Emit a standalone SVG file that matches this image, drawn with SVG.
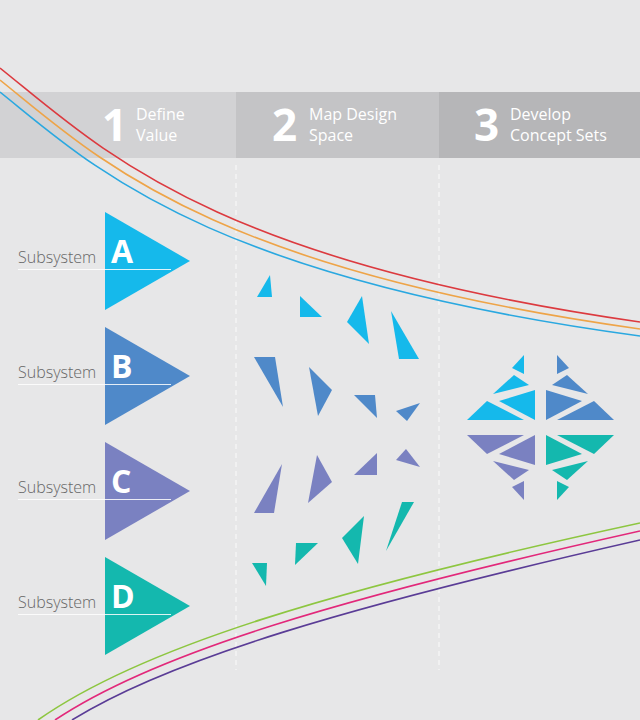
<svg xmlns="http://www.w3.org/2000/svg" width="640" height="720" viewBox="0 0 640 720">
<style>
.hnum{font-family:"Open Sans","Liberation Sans",sans-serif;font-weight:700;font-size:44px;fill:#ffffff}
.htxt{font-family:"Open Sans","Liberation Sans",sans-serif;font-weight:400;font-size:16px;fill:#ffffff}
.sub{font-family:"Open Sans","Liberation Sans",sans-serif;font-weight:300;font-size:16px;fill:#666666}
.let{font-family:"Open Sans","Liberation Sans",sans-serif;font-weight:700;font-size:32px;fill:#ffffff}
.ul{stroke:#ffffff;stroke-width:1;opacity:0.85}
.dash{stroke:#ffffff;stroke-width:1;stroke-dasharray:5 4;opacity:0.9}
.crv{fill:none;stroke-width:1.6}
.cA{fill:#15b9eb}.cB{fill:#4f89c9}.cC{fill:#7a81c1}.cD{fill:#14b8ae}
</style>
<defs>
<g id="quad">
<polygon points="524,355 512,368 524,374"/>
<polygon points="514,375 493,394 529,385"/>
<polygon points="499,401 535,390 535,420"/>
<polygon points="467,420 487,401 524,420"/>
</g>
</defs>
<rect width="640" height="720" fill="#e7e7e8"/>
<g id="header">
<rect x="0" y="92" width="236" height="66" fill="#d2d2d4"/>
<rect x="236" y="92" width="203" height="66" fill="#c4c4c6"/>
<rect x="439" y="92" width="201" height="66" fill="#b6b6b8"/>
<text class="hnum" x="102" y="141">1</text>
<text class="htxt" x="136" y="120">Define</text>
<text class="htxt" x="136" y="141">Value</text>
<text class="hnum" x="272" y="141">2</text>
<text class="htxt" x="309" y="120">Map Design</text>
<text class="htxt" x="309" y="141">Space</text>
<text class="hnum" x="474" y="141">3</text>
<text class="htxt" x="510" y="120">Develop</text>
<text class="htxt" x="510" y="141">Concept Sets</text>
</g>
<g id="dividers">
<line class="dash" x1="236" y1="165" x2="236" y2="670"/>
<line class="dash" x1="439" y1="165" x2="439" y2="670"/>
</g>
<g id="subsystemA">
<polygon class="cA" points="105,212 105,310 190,261"/>
<text class="sub" x="18" y="263">Subsystem</text>
<text class="let" x="111" y="263">A</text>
<line class="ul" x1="18" y1="269.5" x2="171" y2="269.5"/>
</g>
<g id="subsystemB">
<polygon class="cB" points="105,327 105,425 190,376"/>
<text class="sub" x="18" y="378">Subsystem</text>
<text class="let" x="111" y="378">B</text>
<line class="ul" x1="18" y1="384.5" x2="171" y2="384.5"/>
</g>
<g id="subsystemC">
<polygon class="cC" points="105,442 105,540 190,491"/>
<text class="sub" x="18" y="493">Subsystem</text>
<text class="let" x="111" y="493">C</text>
<line class="ul" x1="18" y1="499.5" x2="171" y2="499.5"/>
</g>
<g id="subsystemD">
<polygon class="cD" points="105,557 105,655 190,606"/>
<text class="sub" x="18" y="608">Subsystem</text>
<text class="let" x="111" y="608">D</text>
<line class="ul" x1="18" y1="614.5" x2="171" y2="614.5"/>
</g>
<g id="design-space">
<polygon class="cA" points="270,275 257,297 272,297"/>
<polygon class="cA" points="300,296 300,317 322,317"/>
<polygon class="cA" points="362,296 347,322 369,344"/>
<polygon class="cA" points="391,311 399,359 419,359"/>
<polygon class="cB" points="254,357 275,357 283,407"/>
<polygon class="cB" points="309,367 332,390 318,416"/>
<polygon class="cB" points="354,395 375,395 377,418"/>
<polygon class="cB" points="396,411 420,403 407,421"/>
<polygon class="cC" points="282,464 254,513 274,513"/>
<polygon class="cC" points="317,455 332,482 308,503"/>
<polygon class="cC" points="377,453 354,475 377,475"/>
<polygon class="cC" points="406,449 396,460 420,467"/>
<polygon class="cD" points="402,502 414,502 386,551"/>
<polygon class="cD" points="364,516 342,538 358,564"/>
<polygon class="cD" points="296,543 318,543 295,565"/>
<polygon class="cD" points="252,563 267,563 266,586"/>
</g>
<g id="concept-set">
<use href="#quad" class="cA"/>
<use href="#quad" class="cB" transform="translate(1081,0) scale(-1,1)"/>
<use href="#quad" class="cC" transform="translate(0,855) scale(1,-1)"/>
<use href="#quad" class="cD" transform="translate(1081,855) scale(-1,-1)"/>
</g>
<g id="connectors">
<path class="crv" stroke="#dc3a3f" d="M0,68 C100,148 208,260 640,322"/>
<path class="crv" stroke="#eea448" d="M0,80 C95,156 204,268 640,329"/>
<path class="crv" stroke="#2aa8e0" d="M0,92 C90,164 200,276 640,336"/>
<path class="crv" stroke="#8dc640" d="M38,720 C140,648 330,590 640,523"/>
<path class="crv" stroke="#e2287a" d="M55,720 C155,653 340,598 640,531"/>
<path class="crv" stroke="#5a3c96" d="M72,720 C170,659 350,606 640,540"/>
</g>
</svg>
